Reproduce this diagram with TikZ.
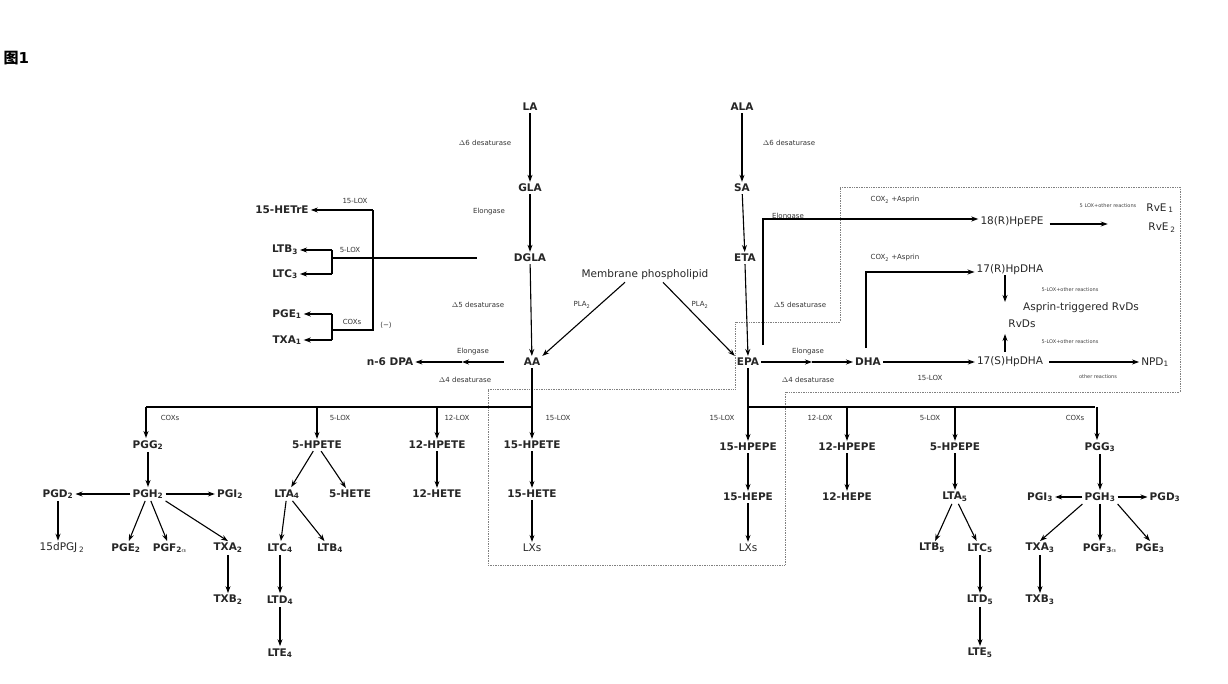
\documentclass[tikz,border=0pt]{standalone}
\usepackage{fontspec}
\setmainfont{DejaVu Sans}
\newfontfamily\cjk{Noto Sans CJK SC}
\usetikzlibrary{arrows.meta}
\begin{document}
\begin{tikzpicture}[x=1pt,y=-1pt,
  m/.style={font=\fontsize{10.5}{12}\selectfont\bfseries,inner sep=2pt,text=black!85},
  r/.style={font=\fontsize{10.5}{12}\selectfont,inner sep=2pt,text=black!85},
  s/.style={font=\fontsize{7}{8}\selectfont,inner sep=1pt,text=black!80},
  t/.style={font=\fontsize{5}{6}\selectfont,inner sep=1pt,text=black!75},
  a/.style={line width=1.1pt,-{Stealth[length=7pt,width=5pt]}},
  l/.style={line width=1.1pt},
  box/.style={densely dotted,gray,line width=0.7pt}]
\useasboundingbox (0,0) rectangle (1228,684);
\node[anchor=west,font=\fontsize{15}{18}\selectfont\bfseries] (title) at (0,58) {{\cjk 图}1};
% dotted box
\draw[box] (488,389)--(735,389)--(735,322)--(840,322)--(840,187)--(1180,187)--(1180,392)--(785,392)--(785,565)--(488,565)--cycle;
% main column
\node[m] (LA) at (530,107) {LA};
\node[m] (ALA) at (742,107) {ALA};
\node[m] (GLA) at (530,188) {GLA};
\node[m] (SA) at (742,188) {SA};
\node[m] (DGLA) at (530,258) {DGLA};
\node[m] (ETA) at (745,258) {ETA};
\node[m] (AA) at (532,362) {AA};
\node[m] (EPA) at (748,362) {EPA};
\node[r] (MP) at (645,275) {Membrane phospholipid};
\node[s] at (485,143) {$\Delta$6 desaturase};
\node[s] at (789,143) {$\Delta$6 desaturase};
\node[s] at (489,212) {Elongase};
\node[s] at (788,217) {Elongase};
\node[s] at (478,305) {$\Delta$5 desaturase};
\node[s] at (800,305) {$\Delta$5 desaturase};
\node[s] at (582,305) {PLA\textsubscript{2}};
\node[s] at (700,305) {PLA\textsubscript{2}};
\draw[a] (LA)--(GLA); \draw[a] (GLA)--(DGLA); \draw[a] (DGLA)--(AA);
\draw[a] (ALA)--(SA); \draw[a] (SA)--(ETA); \draw[a] (ETA.south)--(EPA.north);
\draw[a] (MP.south)+(-20,0) coordinate (mp1) -- (AA.north east);
\draw[a] (MP.south)+(18,0) coordinate (mp2) -- (EPA.north west);
% n-6 DPA
\node[m] (DPA) at (390,362) {n-6 DPA};
\coordinate (dpam) at (462,362);
\node[s] at (473,352) {Elongase};
\node[s] at (465,380) {$\Delta$4 desaturase};
\draw[a] (AA.west)++(-18,0) coordinate (aaw) -- (dpam);
\draw[a] (dpam)--(DPA.east);
% left DGLA products
\node[m] (HETrE) at (282,210) {15-HETrE};
\node[m] (LTB3) at (285,250) {LTB\textsubscript{3}};
\node[m] (LTC3) at (285,274) {LTC\textsubscript{3}};
\node[m] (PGE1) at (287,314) {PGE\textsubscript{1}};
\node[m] (TXA1) at (287,340) {TXA\textsubscript{1}};
\coordinate (v1) at (373,210); \coordinate (v2) at (373,330);
\coordinate (b1) at (332,250); \coordinate (b2) at (332,274);
\coordinate (b3) at (332,314); \coordinate (b4) at (332,340);
\coordinate (c1) at (332,330); \coordinate (c0) at (332,258);
\draw[l] (DGLA.west)++(-35,0) coordinate (dglaw) -- (c0);
\draw[l] (c1)--(v2)--(v1);
\draw[a] (v1)--(HETrE.east);
\draw[l] (b1)--(b2); \draw[l] (b3)--(b4);
\draw[a] (b1)--(LTB3.east); \draw[a] (b2)--(LTC3.east);
\draw[a] (b3)--(PGE1.east); \draw[a] (b4)--(TXA1.east);
\node[s] at (355,201) {15-LOX};
\node[s] at (350,250) {5-LOX};
\node[s] at (352,322) {COXs};
\node[s] at (386,325) {(\textminus)};
% right box
\node[r] (HpEPE) at (1012,222) {18(R)HpEPE};
\node[r] (RHpDHA) at (1010,270) {17(R)HpDHA};
\node[r] (SHpDHA) at (1010,362) {17(S)HpDHA};
\node[m] (DHA) at (868,362) {DHA};
\node[r] (RvE1) at (1160,208) {RvE\,\textsubscript{1}};
\node[r] (RvE2) at (1162,228) {RvE\,\textsubscript{2}};
\node[r] (NPD) at (1155,362) {NPD\textsubscript{1}};
\node[r] (ATRvD) at (1081,308) {Asprin-triggered RvDs};
\node[r] (RvDs) at (1022,324) {RvDs};
\node[s] at (895,200) {COX\textsubscript{2} +Asprin};
\node[s] at (895,258) {COX\textsubscript{2} +Asprin};
\node[t] at (1108,206) {5 LOX+other reactions};
\node[t] at (1070,290) {5-LOX+other reactions};
\node[t] at (1070,342) {5-LOX+other reactions};
\node[t] at (1098,377) {other reactions};
\node[s] at (930,378) {15-LOX};
\node[s] at (808,352) {Elongase};
\node[s] at (808,380) {$\Delta$4 desaturase};
\coordinate (e1) at (763,345); \coordinate (e2) at (763,219);
\coordinate (d1) at (866,348); \coordinate (d2) at (866,272);
\draw[a] (e1)--(e2)--(HpEPE.west|-e2);
\draw[a] (d1)--(d2)--(RHpDHA.west|-d2);
\draw[a] (HpEPE.east)++(4,2) coordinate (hp1) -- ++(58,0) coordinate (hp2);
\draw[a] (RHpDHA.south-|1005,0)++(0,-2) coordinate (rr) -- (1005,302) coordinate (rr2);
\draw[a] (1005,352) coordinate (ss) -- (1005,334) coordinate (ss2);
\draw[a] (DHA.east)--(SHpDHA.west);
\draw[a] (SHpDHA.east)++(4,0) coordinate (sh1) -- (NPD.west);
\coordinate (epam) at (812,362);
\draw[a] (EPA.east)--(epam); \draw[a] (epam)--(DHA.west);
% bottom trunks
\coordinate (h0) at (146,407); \coordinate (h1) at (532,407);
\coordinate (k0) at (748,407); \coordinate (k1) at (1095,407);
\draw[l] (AA.south)--(h1); \draw[l] (h0)--(h1);
\draw[l] (EPA.south)--(k0); \draw[l] (k0)--(k1);
\node[m] (PGG2) at (148,445) {PGG\textsubscript{2}};
\node[m] (HPETE5) at (317,445) {5-HPETE};
\node[m] (HPETE12) at (437,445) {12-HPETE};
\node[m] (HPETE15) at (532,445) {15-HPETE};
\node[m] (HPEPE15) at (748,447) {15-HPEPE};
\node[m] (HPEPE12) at (847,447) {12-HPEPE};
\node[m] (HPEPE5) at (955,447) {5-HPEPE};
\node[m] (PGG3) at (1100,447) {PGG\textsubscript{3}};
\draw[a] (h0)--(PGG2.north-|h0); \draw[a] (317,407) coordinate (q1)--(HPETE5.north);
\draw[a] (437,407) coordinate (q2)--(HPETE12.north); \draw[a] (h1)--(HPETE15.north);
\draw[a] (k0)--(HPEPE15.north); \draw[a] (847,407) coordinate (q3)--(HPEPE12.north);
\draw[a] (955,407) coordinate (q4)--(HPEPE5.north); \draw[a] (1097,407) coordinate (q5)--(PGG3.north-|q5);
\node[s] at (170,418) {COXs}; \node[s] at (340,418) {5-LOX};
\node[s] at (457,418) {12-LOX}; \node[s] at (558,418) {15-LOX};
\node[s] at (722,418) {15-LOX}; \node[s] at (820,418) {12-LOX};
\node[s] at (930,418) {5-LOX}; \node[s] at (1075,418) {COXs};
% AA series
\node[m] (PGH2) at (148,494) {PGH\textsubscript{2}};
\node[m] (PGD2) at (58,494) {PGD\textsubscript{2}};
\node[m] (PGI2) at (230,494) {PGI\textsubscript{2}};
\node[r] (PGJ2) at (62,548) {15dPGJ\,\textsubscript{2}};
\node[m] (PGE2) at (126,548) {PGE\textsubscript{2}};
\node[m] (PGF2) at (170,548) {PGF\textsubscript{2$\alpha$}};
\node[m] (TXA2) at (228,548) {TXA\textsubscript{2}};
\node[m] (TXB2) at (228,600) {TXB\textsubscript{2}};
\draw[a] (PGG2)--(PGH2); \draw[a] (PGH2)--(PGD2); \draw[a] (PGH2)--(PGI2);
\draw[a] (PGD2)--(PGJ2.north-|PGD2); \draw[a] (PGH2)--(PGE2); \draw[a] (PGH2)--(PGF2);
\draw[a] (PGH2.south east)--(TXA2.north); \draw[a] (TXA2)--(TXB2);
\node[m] (LTA4) at (287,494) {LTA\textsubscript{4}};
\node[m] (HETE5) at (350,494) {5-HETE};
\node[m] (LTC4) at (280,548) {LTC\textsubscript{4}};
\node[m] (LTB4) at (330,548) {LTB\textsubscript{4}};
\node[m] (LTD4) at (280,600) {LTD\textsubscript{4}};
\node[m] (LTE4) at (280,653) {LTE\textsubscript{4}};
\draw[a] (HPETE5)--(LTA4); \draw[a] (HPETE5)--(HETE5);
\draw[a] (LTA4)--(LTC4); \draw[a] (LTA4)--(LTB4);
\draw[a] (LTC4)--(LTD4); \draw[a] (LTD4)--(LTE4);
\node[m] (HETE12) at (437,494) {12-HETE};
\draw[a] (HPETE12)--(HETE12);
\node[m] (HETE15) at (532,494) {15-HETE};
\node[r] (LXa) at (532,548) {LXs};
\draw[a] (HPETE15)--(HETE15); \draw[a] (HETE15)--(LXa);
% EPA series
\node[m] (HEPE15) at (748,497) {15-HEPE};
\node[r] (LXb) at (748,548) {LXs};
\draw[a] (HPEPE15)--(HEPE15); \draw[a] (HEPE15)--(LXb);
\node[m] (HEPE12) at (847,497) {12-HEPE};
\draw[a] (HPEPE12)--(HEPE12);
\node[m] (LTA5) at (955,497) {LTA\textsubscript{5}};
\node[m] (LTB5) at (932,548) {LTB\textsubscript{5}};
\node[m] (LTC5) at (980,548) {LTC\textsubscript{5}};
\node[m] (LTD5) at (980,600) {LTD\textsubscript{5}};
\node[m] (LTE5) at (980,653) {LTE\textsubscript{5}};
\draw[a] (HPEPE5)--(LTA5); \draw[a] (LTA5)--(LTB5); \draw[a] (LTA5)--(LTC5);
\draw[a] (LTC5)--(LTD5); \draw[a] (LTD5)--(LTE5);
\node[m] (PGH3) at (1100,497) {PGH\textsubscript{3}};
\node[m] (PGI3) at (1040,497) {PGI\textsubscript{3}};
\node[m] (PGD3) at (1165,497) {PGD\textsubscript{3}};
\node[m] (TXA3) at (1040,548) {TXA\textsubscript{3}};
\node[m] (PGF3) at (1100,548) {PGF\textsubscript{3$\alpha$}};
\node[m] (PGE3) at (1150,548) {PGE\textsubscript{3}};
\node[m] (TXB3) at (1040,600) {TXB\textsubscript{3}};
\draw[a] (PGG3)--(PGH3); \draw[a] (PGH3)--(PGI3); \draw[a] (PGH3)--(PGD3);
\draw[a] (PGH3.south west)--(TXA3.north); \draw[a] (PGH3)--(PGF3);
\draw[a] (PGH3.south east)--(PGE3.north); \draw[a] (TXA3)--(TXB3);
\end{tikzpicture}
\end{document}
